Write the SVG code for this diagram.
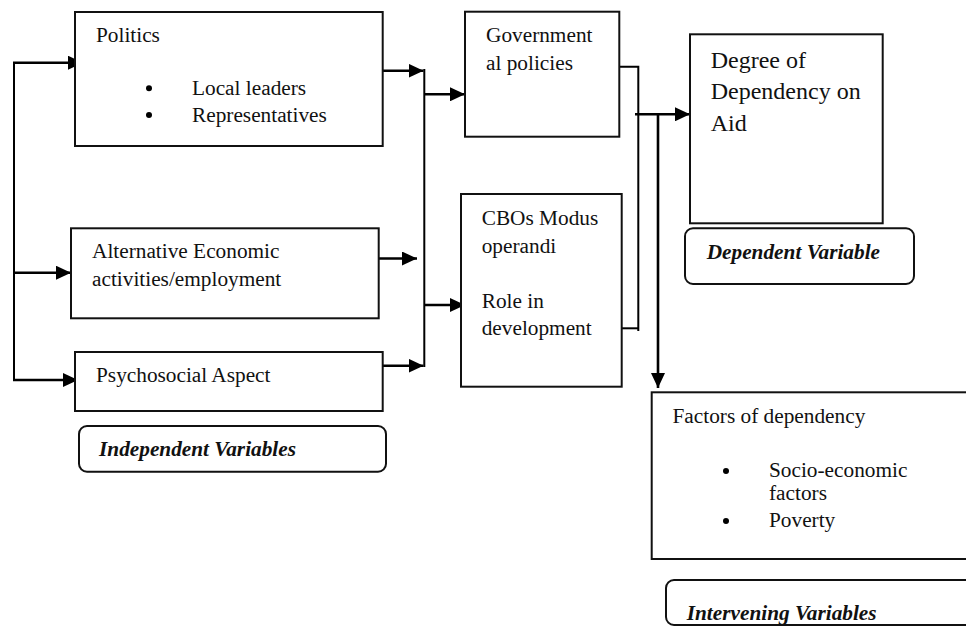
<svg xmlns="http://www.w3.org/2000/svg" width="966" height="626" viewBox="0 0 966 626">
<style>
.box{fill:#fff;stroke:#111;stroke-width:2}
.rbox{fill:#fff;stroke:#111;stroke-width:2}
.t{font-family:"Liberation Serif","Times New Roman",serif;font-size:21.3px;fill:#111}
.big{font-size:24px}
.bi{font-weight:bold;font-style:italic}
.ln{fill:none;stroke:#000;stroke-width:2}
.ar{fill:none;stroke:#000;stroke-width:2.6;marker-end:url(#ah)}
.dot{fill:#000}
</style>
<defs>
<marker id="ah" markerUnits="userSpaceOnUse" markerWidth="16" markerHeight="14" refX="15" refY="7" orient="auto">
<path d="M0,0 L15,7 L0,14 Z" fill="#000"/>
</marker>
</defs>

<g id="connectors">
<line class="ln" x1="14" y1="62" x2="14" y2="381"/>
<line class="ar" x1="13" y1="62.7" x2="83" y2="62.7"/>
<line class="ar" x1="13" y1="272.7" x2="71" y2="272.7"/>
<line class="ar" x1="13" y1="380" x2="78" y2="380"/>
<line class="ar" x1="383" y1="70.7" x2="423.5" y2="70.7"/>
<line class="ar" x1="379" y1="258.5" x2="417" y2="258.5"/>
<line class="ar" x1="383" y1="365.7" x2="423.5" y2="365.7"/>
<line class="ln" x1="424.3" y1="69" x2="424.3" y2="367"/>
<line class="ar" x1="424" y1="94.3" x2="465" y2="94.3"/>
<line class="ar" x1="424" y1="305" x2="465" y2="305"/>
<polyline class="ln" points="619.3,66.7 638.3,66.7 638.3,331"/>
<line class="ln" x1="621.7" y1="328.3" x2="639" y2="328.3"/>
<line class="ar" x1="635" y1="114.3" x2="690" y2="114.3"/>
<line class="ar" x1="658" y1="113" x2="658" y2="388"/>
</g>

<g id="politics">
<rect class="box" x="75" y="12" width="307.7" height="134"/>
<text class="t" x="96" y="42">Politics</text>
<circle class="dot" cx="149" cy="88.3" r="3"/>
<circle class="dot" cx="149" cy="115" r="3"/>
<text class="t" x="192" y="95">Local leaders</text>
<text class="t" x="192" y="121.7">Representatives</text>
</g>

<g id="alternative">
<rect class="box" x="71" y="228.3" width="307.7" height="90"/>
<text class="t" x="92" y="258.3">Alternative Economic</text>
<text class="t" x="92" y="286">activities/employment</text>
</g>

<g id="psychosocial">
<rect class="box" x="75" y="352" width="307.7" height="59"/>
<text class="t" x="96" y="381.7">Psychosocial Aspect</text>
</g>

<g id="independent-label">
<rect class="rbox" x="79" y="426" width="307" height="45.7" rx="8"/>
<text class="t bi" x="99" y="456">Independent Variables</text>
</g>

<g id="governmental">
<rect class="box" x="465" y="11.7" width="154.3" height="125"/>
<text class="t" x="486" y="41.7">Government</text>
<text class="t" x="486" y="70">al policies</text>
</g>

<g id="cbos">
<rect class="box" x="461" y="194" width="160.7" height="192.7"/>
<text class="t" x="481.7" y="225">CBOs Modus</text>
<text class="t" x="481.7" y="252.7">operandi</text>
<text class="t" x="481.7" y="308.3">Role in</text>
<text class="t" x="481.7" y="335">development</text>
</g>

<g id="degree">
<rect class="box" x="690" y="34.3" width="192.7" height="189"/>
<text class="t big" x="710.7" y="68.3">Degree of</text>
<text class="t big" x="710.7" y="99.3">Dependency on</text>
<text class="t big" x="710.7" y="130.7">Aid</text>
</g>

<g id="dependent-label">
<rect class="rbox" x="685" y="228.3" width="229" height="55.7" rx="8"/>
<text class="t bi" x="706.7" y="259">Dependent Variable</text>
</g>

<g id="factors">
<rect class="box" x="651.7" y="392.3" width="330" height="166.7"/>
<text class="t" x="672.5" y="423">Factors of dependency</text>
<circle class="dot" cx="726" cy="471" r="3"/>
<circle class="dot" cx="726" cy="521" r="3"/>
<text class="t" x="769" y="476.7">Socio-economic</text>
<text class="t" x="769" y="500">factors</text>
<text class="t" x="769" y="526.7">Poverty</text>
</g>

<g id="intervening-label">
<rect class="rbox" x="666" y="580" width="320" height="45" rx="8"/>
<text class="t bi" x="686.7" y="619.5">Intervening Variables</text>
</g>
</svg>
